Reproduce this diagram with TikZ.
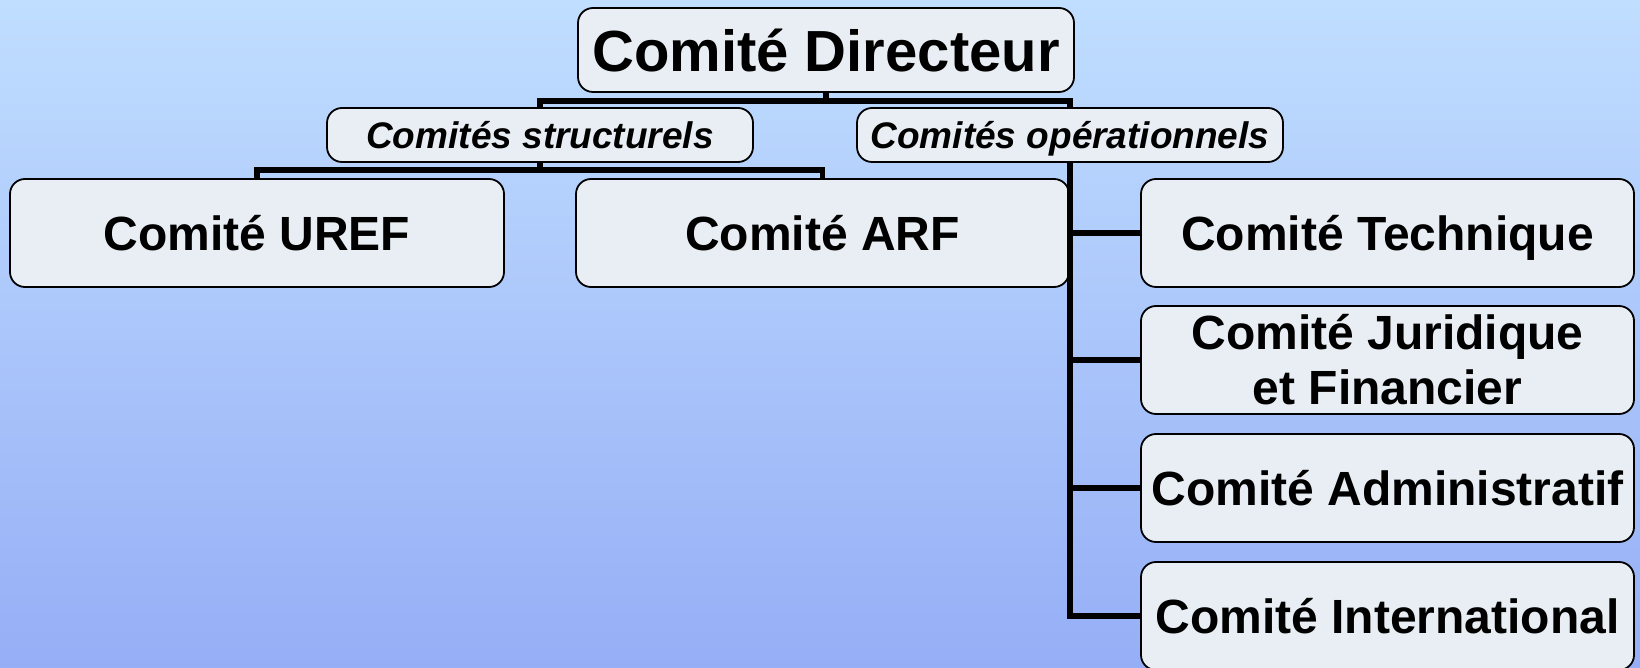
\documentclass[tikz,border=0pt]{standalone}
\usepackage{fontspec}
\setmainfont{Liberation Sans}
\begin{document}
\begin{tikzpicture}[x=1pt,y=1pt,
  box/.style={draw=black, line width=1.8pt, fill=boxfill, rounded corners=15pt, inner sep=0pt, align=center, text=black},
  bigbox/.style={box, minimum width=493pt, minimum height=108pt, font=\fontsize{48}{55}\selectfont\bfseries, text depth=0pt},
  subbox/.style={box, minimum width=426pt, minimum height=54pt, font=\fontsize{37}{42}\selectfont\bfseries\itshape, text depth=0pt},
  conn/.style={draw=black, line width=5.5pt}]
\definecolor{boxfill}{RGB}{232,238,243}
\definecolor{bgtop}{RGB}{192,222,255}
\definecolor{bgbot}{RGB}{150,174,246}
\useasboundingbox (0,0) rectangle (1640,667);
\shade[top color=bgtop, bottom color=bgbot] (0,0) rectangle (1640,667);
\begin{scope}
\clip (0,0) rectangle (1640,667);
\node[box, minimum width=496pt, minimum height=84pt, font=\fontsize{58}{62}\selectfont\bfseries, text depth=0pt] (dir) at (826,617) {Comité Directeur};
\node[subbox] (struct) at (540,532) {Comités structurels};
\node[subbox] (oper) at (1070,532) {Comités opérationnels};
\node[bigbox, minimum width=494pt] (uref) at (257,434) {Comité UREF};
\node[bigbox] (arf) at (822.5,434) {Comité ARF};
\node[bigbox] (tech) at (1387.5,434) {Comité Technique};
\node[box, minimum width=493pt, minimum height=108pt, font=\fontsize{48}{55}\selectfont\bfseries] (jur) at (1387.5,307) {Comité Juridique\\et Financier};
\node[bigbox] (adm) at (1387.5,179) {Comité Administratif};
\node[bigbox] (int) at (1387.5,51) {Comité International};
\draw[conn] (dir.south) -- ++(0,-8) -| (struct.north);
\draw[conn] (dir.south) -- ++(0,-8) -| (oper.north);
\draw[conn] (struct.south) -- ++(0,-7) -| (uref.north);
\draw[conn] (struct.south) -- ++(0,-7) -| (arf.north);
\draw[conn] (oper.south) |- (tech.west);
\draw[conn] (oper.south) |- (jur.west);
\draw[conn] (oper.south) |- (adm.west);
\draw[conn] (oper.south) |- (int.west);
\end{scope}
\end{tikzpicture}
\end{document}
